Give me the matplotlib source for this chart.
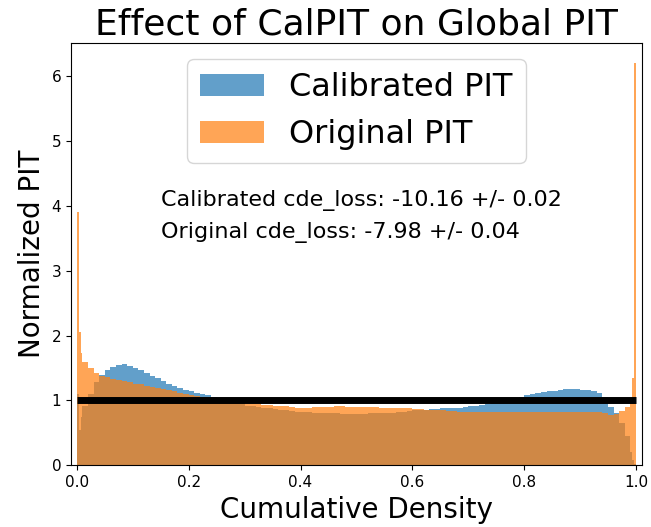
import numpy as np
import matplotlib
matplotlib.use("Agg")
import matplotlib.pyplot as plt

# bin edges: fine bins at both ends, 0.01 wide in between
edges = np.concatenate([
    np.linspace(0.0, 0.01, 4),
    np.linspace(0.02, 0.98, 97),
    np.linspace(0.99, 1.0, 4),
])

calibrated_left = [1.10, 0.55, 0.75]
calibrated_mid = [
    0.92, 1.10, 1.28, 1.40, 1.47, 1.52, 1.55, 1.56, 1.53, 1.50,
    1.47, 1.43, 1.38, 1.34, 1.30, 1.26, 1.22, 1.19, 1.16, 1.14,
    1.12, 1.10, 1.08, 1.06, 1.04, 1.02, 1.00, 0.97, 0.94, 0.92,
    0.91, 0.90, 0.89, 0.88, 0.87, 0.86, 0.85, 0.84, 0.83, 0.82,
    0.82, 0.81, 0.81, 0.80, 0.80, 0.80, 0.79, 0.79, 0.79, 0.79,
    0.79, 0.80, 0.80, 0.80, 0.81, 0.81, 0.82, 0.83, 0.84, 0.85,
    0.86, 0.86, 0.87, 0.87, 0.88, 0.88, 0.89, 0.89, 0.90, 0.91,
    0.92, 0.93, 0.95, 0.96, 0.98, 1.00, 1.02, 1.04, 1.06, 1.08,
    1.10, 1.11, 1.13, 1.14, 1.15, 1.16, 1.17, 1.17, 1.17, 1.16,
    1.16, 1.14, 1.12, 1.05, 0.90, 0.80, 0.66, 0.45,
]
calibrated_right = [0.20, 0.08, 0.02]

original_left = [3.90, 2.05, 1.74]
original_mid = [
    1.60, 1.50, 1.43, 1.38, 1.36, 1.33, 1.31, 1.30, 1.28, 1.26,
    1.25, 1.23, 1.21, 1.20, 1.18, 1.16, 1.14, 1.12, 1.10, 1.08,
    1.07, 1.06, 1.05, 1.04, 1.03, 1.02, 1.00, 0.98, 0.96, 0.95,
    0.94, 0.94, 0.93, 0.93, 0.92, 0.91, 0.91, 0.90, 0.89, 0.89,
    0.89, 0.90, 0.90, 0.90, 0.90, 0.91, 0.91, 0.90, 0.90, 0.90,
    0.90, 0.90, 0.90, 0.89, 0.89, 0.89, 0.88, 0.88, 0.88, 0.87,
    0.87, 0.86, 0.86, 0.85, 0.85, 0.84, 0.84, 0.83, 0.83, 0.83,
    0.82, 0.82, 0.82, 0.82, 0.82, 0.82, 0.82, 0.82, 0.82, 0.82,
    0.82, 0.82, 0.82, 0.82, 0.82, 0.82, 0.82, 0.82, 0.82, 0.82,
    0.82, 0.82, 0.82, 0.81, 0.78, 0.79, 0.84, 0.90,
]
original_right = [0.97, 1.34, 6.20]

calibrated = np.array(calibrated_left + calibrated_mid + calibrated_right)
original = np.array(original_left + original_mid + original_right)

cal_text = "Calibrated cde_loss: -10.16 +/- 0.02"
orig_text = "Original cde_loss: -7.98 +/- 0.04"

fig = plt.figure(figsize=(6.51, 5.27), dpi=100)
ax = fig.add_axes([0.109, 0.117, 0.877, 0.801])

centers = edges[:-1]
ax.hist(centers, bins=edges, weights=calibrated, histtype="stepfilled",
        alpha=0.7, label="Calibrated PIT")
ax.hist(centers, bins=edges, weights=original, histtype="stepfilled",
        alpha=0.7, label="Original PIT")
ax.hlines(1, 0, 1, colors="k", linewidth=5)

ax.text(0.15, 4.0, cal_text, fontsize=16)
ax.text(0.15, 3.5, orig_text, fontsize=16)

ax.set_xlim(-0.0105, 1.0105)
ax.set_title("Effect of CalPIT on Global PIT", fontsize=26)
ax.set_xlabel("Cumulative Density", fontsize=20)
ax.set_ylabel("Normalized PIT", fontsize=20)
ax.tick_params(labelsize=11)
ax.legend(loc="upper center", fontsize=23)

fig.savefig("out.png", dpi=100)
